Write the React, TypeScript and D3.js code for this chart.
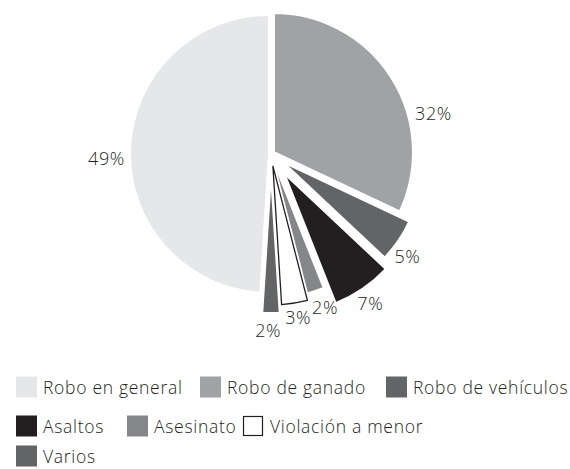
import React from "react";
import * as d3 from "d3";

// ---- data ----
const categories = [
  "Robo en general",
  "Robo de ganado",
  "Robo de vehículos",
  "Asaltos",
  "Asesinato",
  "Violación a menor",
  "Varios",
];
const values = [49, 32, 5, 7, 2, 3, 2];
const labels = ["49%", "32%", "5%", "7%", "2%", "3%", "2%"];

// ---- styles / layout ----
const colors = ["#e6e7e8", "#a1a2a5", "#636466", "#231f20", "#858689", "#ffffff", "#636466"];
const explode = [2, 3.5, 15, 24, 5, 12, 20];
const labelPolar: [number, number][] = [
  [268.6, 164.5],
  [75.8, 167.6],
  [126.8, 170.4],
  [146.3, 179],
  [160.5, 162],
  [170.5, 165],
  [180.9, 176],
];
const legendRows = [
  [0, 1, 2],
  [3, 4, 5],
  [6],
];
const legendX = [
  [16, 200, 386],
  [16, 127, 243],
  [16],
];
const legendY = [387, 426, 456];

const W = 570;
const H = 469;
const CX = 271;
const CY = 154;
const R = 139;
const INK = "#231f20";
const FONT = "'Open Sans', Lato, sans-serif";

export default function App() {
  const total = d3.sum(values);
  const start = (-2 * Math.PI * values[0]) / total;
  const pie = d3
    .pie<number>()
    .sort(null)
    .value((d) => d)
    .startAngle(start)
    .endAngle(start + 2 * Math.PI);
  const arcs = pie(values);
  const arc = d3.arc<d3.PieArcDatum<number>>().innerRadius(0).outerRadius(R);

  return (
    <svg
      width={W}
      height={H}
      style={{ position: "absolute", left: 0, top: 0, background: "#fff" }}
      fontFamily={FONT}
      fontWeight={300}
    >
      <g transform={`translate(${CX},${CY})`}>
        {arcs.map((a, i) => {
          const mid = (a.startAngle + a.endAngle) / 2;
          const dx = Math.sin(mid) * explode[i];
          const dy = -Math.cos(mid) * explode[i];
          const isOutlined = colors[i] === "#ffffff";
          return (
            <path
              key={i}
              d={arc(a) || ""}
              transform={`translate(${dx},${dy})`}
              fill={colors[i]}
              stroke={isOutlined ? INK : "#ffffff"}
              strokeWidth={isOutlined ? 1.3 : 2}
              strokeLinejoin="miter"
            />
          );
        })}
        {labels.map((t, i) => {
          const [deg, r] = labelPolar[i];
          const ang = (deg * Math.PI) / 180;
          return (
            <text
              key={i}
              x={Math.sin(ang) * r}
              y={-Math.cos(ang) * r}
              textAnchor="middle"
              dominantBaseline="central"
              fontSize={18}
              letterSpacing={0.6}
              fill={INK}
            >
              {t}
            </text>
          );
        })}
      </g>
      {legendRows.map((row, ri) =>
        row.map((ci, k) => {
          const x = legendX[ri][k];
          const y = legendY[ri];
          const outlined = colors[ci] === "#ffffff";
          return (
            <g key={`${ri}-${k}`}>
              <rect
                x={outlined ? x + 0.5 : x}
                y={outlined ? y - 9.5 : y - 10.5}
                width={outlined ? 19 : 21}
                height={outlined ? 19 : 21}
                fill={colors[ci]}
                stroke={outlined ? INK : "none"}
                strokeWidth={1.2}
              />
              <text
                x={x + 27}
                y={y}
                dominantBaseline="central"
                fontSize={17.5}
                letterSpacing={0.7}
                fill={INK}
              >
                {categories[ci]}
              </text>
            </g>
          );
        })
      )}
    </svg>
  );
}
